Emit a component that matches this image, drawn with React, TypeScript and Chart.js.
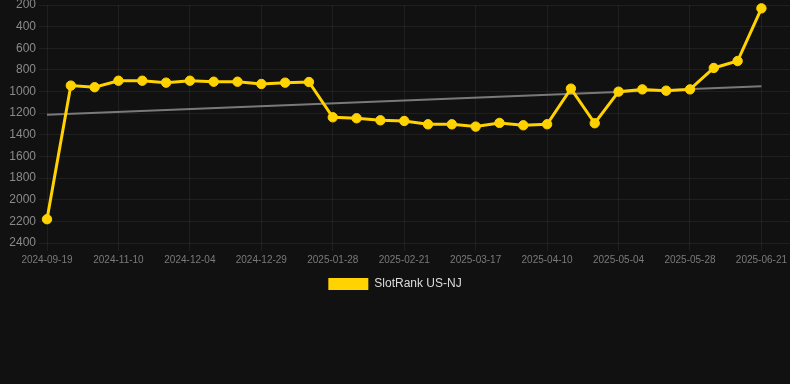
import React, { useEffect, useRef } from "react";
import { Chart, registerables } from "chart.js";

Chart.register(...registerables);

const dates: string[] = [
  "2024-09-19", "2024-10-25", "2024-11-02", "2024-11-10", "2024-11-18", "2024-11-26",
  "2024-12-04", "2024-12-12", "2024-12-20", "2024-12-29", "2025-01-08", "2025-01-18",
  "2025-01-28", "2025-02-05", "2025-02-13", "2025-02-21", "2025-03-01", "2025-03-09",
  "2025-03-17", "2025-03-25", "2025-04-02", "2025-04-10", "2025-04-18", "2025-04-26",
  "2025-05-04", "2025-05-12", "2025-05-20", "2025-05-28", "2025-06-05", "2025-06-13",
  "2025-06-21",
];

const rankValues: number[] = [
  2180, 945, 960, 900, 900, 918, 900, 909, 909, 930, 918, 912,
  1238, 1247, 1266, 1272, 1303, 1303, 1324, 1290, 1312, 1302,
  973, 1293, 1001, 980, 992, 980, 782, 718, 231,
];

const trendStart = 1215;
const trendEnd = 950;

const seriesLabel = "SlotRank US-NJ";

export default function App() {
  const ref = useRef<HTMLCanvasElement | null>(null);

  useEffect(() => {
    document.body.style.margin = "0";
    document.body.style.background = "#111111";
    const ctx = ref.current!;
    const font = "'Liberation Sans', Arial, Helvetica, sans-serif";
    const chart = new Chart(ctx, {
      type: "line",
      data: {
        datasets: [
          {
            label: seriesLabel,
            data: rankValues.map((v, i) => ({ x: i, y: v })),
            borderColor: "#FFD200",
            backgroundColor: "#FFD200",
            borderWidth: 3,
            pointRadius: 4.7,
            pointHoverRadius: 4.7,
            pointBorderWidth: 1,
            pointBackgroundColor: "#FFD200",
            pointBorderColor: "#FFD200",
            tension: 0,
            clip: false,
          },
          {
            label: "trend",
            data: [
              { x: 0, y: trendStart },
              { x: dates.length - 1, y: trendEnd },
            ],
            borderColor: "rgba(140,140,140,0.85)",
            backgroundColor: "rgba(140,140,140,0.85)",
            borderWidth: 2,
            pointRadius: 0,
            tension: 0,
          },
        ],
      },
      options: {
        animation: false,
        responsive: false,
        maintainAspectRatio: false,
        layout: { autoPadding: false, padding: { top: 5, left: 0, right: 0, bottom: 0 } },
        plugins: {
          tooltip: { enabled: false },
          legend: {
            position: "bottom",
            labels: {
              boxWidth: 40,
              boxHeight: 12,
              color: "#dddddd",
              font: { family: font, size: 12 },
              padding: 10,
              generateLabels: (c: any) =>
                Chart.defaults.plugins.legend.labels
                  .generateLabels(c)
                  .filter((it: any) => it.text === seriesLabel)
                  .map((it: any) => ({ ...it, lineWidth: 0, strokeStyle: "rgba(0,0,0,0)" })),
            },
          },
        },
        scales: {
          x: {
            type: "linear",
            min: 0,
            max: 31.2,
            grid: { color: "rgba(255,255,255,0.06)", tickLength: 8 },
            border: { display: false },
            ticks: {
              stepSize: 3,
              autoSkip: false,
              includeBounds: false,
              maxRotation: 0,
              color: "#7a7a7a",
              font: { family: font, size: 10 },
              padding: 3,
              callback: (value) => {
                const v = Number(value);
                if (Number.isInteger(v) && v % 3 === 0 && dates[v]) return dates[v];
                return null;
              },
            },
            afterFit: (scale: any) => {
              scale.paddingLeft = 0;
              scale.paddingRight = 0;
              scale.height = 25;
            },
          },
          y: {
            reverse: true,
            min: 200,
            max: 2400,
            grid: { color: "rgba(255,255,255,0.06)", tickLength: 8 },
            border: { display: false },
            ticks: {
              stepSize: 200,
              color: "#8a8a8a",
              font: { family: font, size: 12 },
              padding: 3,
              callback: (value) => String(value),
            },
            afterFit: (scale: any) => {
              scale.width = 47;
              scale.paddingTop = 0;
              scale.paddingBottom = 0;
            },
          },
        },
      },
    });
    return () => chart.destroy();
  }, []);

  return (
    <div style={{ position: "absolute", left: 0, top: 0, width: 790, height: 384, background: "#111111" }}>
      <canvas ref={ref} width={790} height={300} style={{ display: "block", width: 790, height: 300 }} />
    </div>
  );
}
